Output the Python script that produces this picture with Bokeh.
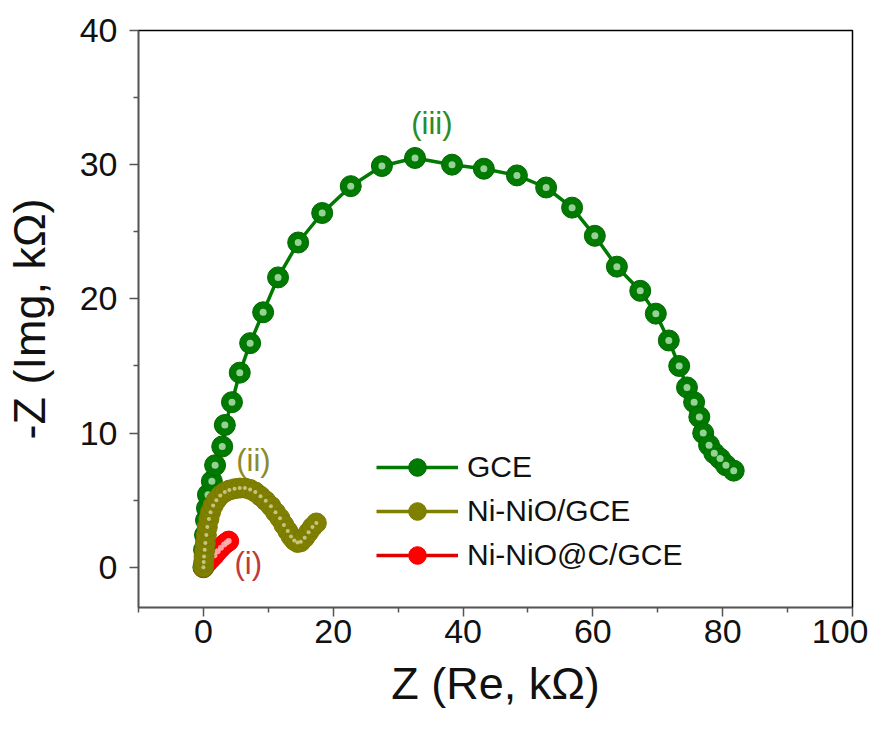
from bokeh.plotting import figure
from bokeh.models import Legend, LegendItem, ColumnDataSource, Range1d, FixedTicker
from bokeh.embed import file_html
from bokeh.resources import INLINE
from bokeh.core.properties import value

# GCE (iii)
gce_x = [0.0, 0.1, 0.25, 0.4, 0.55, 0.7, 1.3, 1.8, 2.9, 3.3, 4.4, 5.6, 7.2, 9.2, 11.5, 14.6,
         18.3, 22.7, 27.5, 32.6, 38.3, 43.2, 48.3, 52.8, 56.8, 60.3, 63.7, 67.3, 69.7, 71.7,
         73.3, 74.5, 75.6, 76.4, 77.0, 77.9, 78.7, 79.6, 80.5, 81.7]
gce_y = [0.0, 1.3, 2.4, 3.5, 4.4, 5.4, 6.4, 7.6, 9.0, 10.6, 12.3, 14.5, 16.7, 19.0, 21.6, 24.2,
         26.4, 28.4, 29.9, 30.5, 30.0, 29.7, 29.2, 28.3, 26.8, 24.7, 22.4, 20.6, 18.9, 16.9,
         15.0, 13.4, 12.3, 11.2, 10.0, 9.1, 8.5, 8.1, 7.6, 7.2]

# Ni-NiO/GCE (ii)
nio_x = [0.0, 0.05, 0.1, 0.2, 0.3, 0.45, 0.6, 0.85, 1.1, 1.5, 2.0, 2.6, 3.3, 4.0, 4.8, 5.6, 6.4,
         7.2, 8.0, 8.8, 9.6, 10.4, 11.1, 11.8, 12.4, 13.0, 13.5, 14.0, 14.5, 15.0, 15.6, 16.2,
         16.8, 17.4]
nio_y = [0.0, 0.4, 0.8, 1.3, 1.8, 2.4, 3.0, 3.6, 4.1, 4.6, 5.0, 5.35, 5.6, 5.75, 5.85, 5.9, 5.9,
         5.8, 5.6, 5.3, 4.95, 4.55, 4.1, 3.65, 3.15, 2.7, 2.3, 2.0, 1.85, 1.9, 2.2, 2.6, 3.0, 3.3]

# Ni-NiO@C/GCE (i)
nioc_x = [0.0, 0.3, 0.7, 1.2, 1.7, 2.2, 2.7, 3.2, 3.6, 3.9]
nioc_y = [0.0, 0.2, 0.4, 0.65, 0.9, 1.2, 1.45, 1.7, 1.85, 1.95]

series_names = ["GCE", "Ni-NiO/GCE", "Ni-NiO@C/GCE"]

label_x = [35.2, 7.7, 6.9]
label_y = [33.1, 7.95, 0.25]
label_text = ["(iii)", "(ii)", "(i)"]
label_colors = ["#2a8c2a", "#8a8a2e", "#c03a3a"]

x_ticks = [0, 20, 40, 60, 80, 100]
y_ticks = [0, 10, 20, 30, 40]

FONT = "Liberation Sans"

p = figure(width=868, height=713, output_backend="svg", toolbar_location=None,
           x_range=Range1d(-10, 100), y_range=Range1d(-3, 40),
           min_border_left=137, min_border_right=16, min_border_top=30, min_border_bottom=106)
p.grid.visible = False
p.outline_line_color = "#000000"
p.outline_line_width = 1.5
p.background_fill_color = "white"
p.border_fill_color = "white"

for ax, ticks in ((p.xaxis[0], x_ticks), (p.yaxis[0], y_ticks)):
    step = ticks[1] - ticks[0]
    ax.ticker = FixedTicker(ticks=ticks,
                            minor_ticks=[t + step / 2 for t in [ticks[0] - step] + ticks])
    ax.axis_line_color = "#555555"
    ax.axis_line_width = 1.5
    ax.major_tick_line_color = "#555555"
    ax.minor_tick_line_color = "#555555"
    ax.major_tick_line_width = 1.5
    ax.minor_tick_line_width = 1.5
    ax.major_tick_out = 9
    ax.major_tick_in = 0
    ax.minor_tick_out = 5
    ax.minor_tick_in = 0
    ax.major_label_text_font = FONT
    ax.major_label_text_font_size = "34px"
    ax.major_label_text_line_height = 1.0
    ax.major_label_text_color = "#111111"
    ax.axis_label_text_font = FONT
    ax.axis_label_text_font_size = "45px"
    ax.axis_label_text_line_height = 1.0
    ax.axis_label_text_font_style = "normal"
    ax.axis_label_text_color = "#111111"

p.xaxis.axis_label = "Z (Re, kΩ)"
p.yaxis.axis_label = "-Z (Img, kΩ)"
p.xaxis.major_label_standoff = 3
p.xaxis.axis_label_standoff = 12
p.yaxis.major_label_standoff = 12
p.yaxis.axis_label_standoff = 22

src_g = ColumnDataSource(dict(x=gce_x, y=gce_y))
src_o = ColumnDataSource(dict(x=nio_x, y=nio_y))
src_r = ColumnDataSource(dict(x=nioc_x, y=nioc_y))

# GCE
g_line = p.line("x", "y", source=src_g, line_color="#007a00", line_width=3.5)
g_dot = p.scatter("x", "y", source=src_g, size=21, fill_color="#007a00", line_color="#006800", line_width=1)
g_hi = p.scatter("x", "y", source=src_g, size=7, fill_color="#a6dca6", line_color=None, fill_alpha=0.9)

# Ni-NiO@C/GCE
r_line = p.line("x", "y", source=src_r, line_color="#e00000", line_width=3.5)
r_dot = p.scatter("x", "y", source=src_r, size=20, fill_color="#ff0000", line_color="#ee0000", line_width=1)
r_hi = p.scatter("x", "y", source=src_r, size=6, fill_color="#ffb0b0", line_color=None, fill_alpha=0.9)

# Ni-NiO/GCE
o_line = p.line("x", "y", source=src_o, line_color="#808000", line_width=3.5)
o_dot = p.scatter("x", "y", source=src_o, size=20, fill_color="#808000", line_color="#787800", line_width=1)
o_hi = p.scatter("x", "y", source=src_o, size=4, fill_color="#d6d6a0", line_color=None, fill_alpha=0.8)

p.text(x=label_x, y=label_y, text=label_text, text_color=label_colors,
       text_font=value(FONT), text_font_size="31px", text_align="center", text_baseline="middle")

legend = Legend(items=[
    LegendItem(label=series_names[0], renderers=[g_line, g_dot]),
    LegendItem(label=series_names[1], renderers=[o_line, o_dot]),
    LegendItem(label=series_names[2], renderers=[r_line, r_dot]),
], location=(238, 30))
legend.border_line_color = None
legend.background_fill_alpha = 0
legend.padding = 0
legend.margin = 0
legend.spacing = 0
legend.glyph_width = 82
legend.glyph_height = 44
legend.label_standoff = 9
legend.label_text_font = FONT
legend.label_text_font_size = "30px"
legend.label_text_color = "#111111"
legend.label_text_baseline = "middle"
p.add_layout(legend, "center")

open("out.html", "w").write(file_html(p, INLINE))
